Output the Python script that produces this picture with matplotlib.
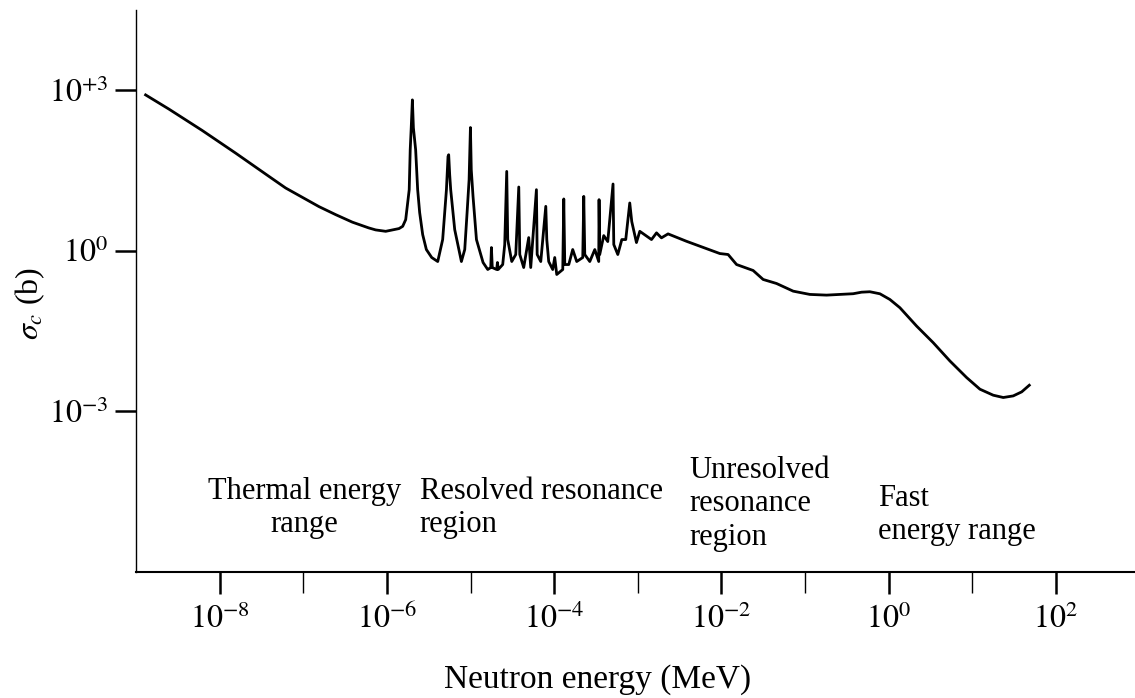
import numpy as np
import matplotlib
matplotlib.use('Agg')
import matplotlib.pyplot as plt
from matplotlib.ticker import FixedLocator, NullFormatter

plt.rcParams['font.family'] = 'Liberation Serif'
plt.rcParams['mathtext.fontset'] = 'stix'

# log10(E / MeV) and log10(sigma / b)
thermal_logE = [-8.885, -8.606, -8.207, -7.809, -7.410, -7.211, -6.812, -6.612, -6.413,
                -6.218, -6.134, -6.014, -5.855, -5.811, -5.775]
thermal_logS = [2.905, 2.640, 2.240, 1.819, 1.384, 1.168, 0.820, 0.670, 0.530,
                0.423, 0.385, 0.359, 0.410, 0.452, 0.577]

resolved_logE = [-5.733, -5.721, -5.709, -5.695, -5.683, -5.656, -5.632, -5.608, -5.572, -5.528,
                 -5.464, -5.392,
                 -5.333, -5.288, -5.269, -5.261, -5.249, -5.237, -5.189, -5.109,
                 -5.069, -5.041, -5.017, -5.001, -4.991, -4.970, -4.929, -4.850, -4.794,
                 -4.758, -4.750, -4.740, -4.687, -4.678, -4.669, -4.615,
                 -4.591, -4.567, -4.555, -4.507, -4.459, -4.423, -4.411, -4.364, -4.304, -4.280,
                 -4.212, -4.203, -4.160, -4.100, -4.088, -4.065, -4.017, -3.993, -3.969,
                 -3.897, -3.885, -3.873, -3.825, -3.778, -3.730,
                 -3.658, -3.646, -3.634, -3.574, -3.514,
                 -3.467, -3.463, -3.455, -3.407, -3.359, -3.296, -3.287, -3.239, -3.191, -3.144,
                 -3.096, -3.072, -3.016, -2.976]
resolved_logS = [1.136, 1.881, 2.291, 2.812, 2.291, 1.881, 1.136, 0.708, 0.298, 0.019,
                 -0.130, -0.205,
                 0.205, 1.136, 1.756, 1.788, 1.415, 1.136, 0.391, -0.205,
                 0.019, 0.708, 1.322, 2.296, 1.508, 1.011, 0.205, -0.223, -0.354,
                 -0.317, 0.056, -0.317, -0.354, -0.223, -0.354, -0.261,
                 0.112, 1.477, 0.205, -0.205, -0.074, 1.186, -0.074, -0.317, 0.242, -0.317,
                 1.136, -0.074, -0.205, 0.825, 0.205, -0.205, -0.354, -0.130, -0.447,
                 -0.354, 0.963, -0.261, -0.261, 0.019, -0.205,
                 -0.130, 1.011, -0.074, -0.205, 0.019,
                 -0.205, 0.950, -0.074, 0.279, 0.168, 1.242, 0.112, -0.074, 0.205, 0.205,
                 0.888, 0.540, 0.149, 0.359]

unresolved_logE = [-2.836, -2.776, -2.717, -2.638, -2.418, -2.019, -1.920, -1.819, -1.621,
                   -1.501, -1.341, -1.142, -0.943]
unresolved_logS = [0.205, 0.330, 0.237, 0.311, 0.173, -0.056, -0.074, -0.261, -0.372,
                   -0.540, -0.615, -0.758, -0.819]

fast_logE = [-0.743, -0.425, -0.324, -0.225, -0.105, 0.014, 0.134, 0.334, 0.532, 0.732,
             0.932, 1.091, 1.250, 1.370, 1.489, 1.590, 1.681]
fast_logS = [-0.832, -0.806, -0.777, -0.769, -0.807, -0.913, -1.067, -1.410, -1.719, -2.061,
             -2.371, -2.588, -2.700, -2.743, -2.713, -2.638, -2.514]

major_x = [-8, -6, -4, -2, 0, 2]
minor_x = [-7, -5, -3, -1, 1]
y_ticks = [3, 0, -3]
y_labels = ['$10^{+3}$', '$10^{0}$', '$10^{-3}$']

logE = np.concatenate([thermal_logE, resolved_logE, unresolved_logE, fast_logE])
logS = np.concatenate([thermal_logS, resolved_logS, unresolved_logS, fast_logS])

fig = plt.figure(figsize=(11.35, 6.98), dpi=100)
ax = fig.add_axes([0.1198, 0.1805, 0.8802, 0.8052])

ax.loglog(10.0 ** logE, 10.0 ** logS, color='black', lw=2.0, solid_joinstyle='round')

ax.set_xlim(1e-9, 10 ** 2.945)
ax.set_ylim(1e-6, 10 ** 4.49)

ax.spines['top'].set_visible(False)
ax.spines['right'].set_visible(False)
ax.spines['left'].set_linewidth(1.0)
ax.spines['bottom'].set_linewidth(1.5)

ax.xaxis.set_major_locator(FixedLocator([10.0 ** k for k in major_x]))
ax.xaxis.set_minor_locator(FixedLocator([10.0 ** k for k in minor_x]))
ax.set_xticklabels(['$10^{%d}$' % k for k in major_x])
ax.xaxis.set_minor_formatter(NullFormatter())
ax.tick_params(axis='x', which='major', direction='out', length=16, width=1.8,
               labelsize=23, pad=7)
ax.tick_params(axis='x', which='minor', direction='out', length=15, width=1.0)

ax.yaxis.set_major_locator(FixedLocator([10.0 ** k for k in y_ticks]))
ax.yaxis.set_minor_locator(FixedLocator([]))
ax.set_yticklabels(y_labels)
ax.tick_params(axis='y', which='major', direction='out', length=15, width=1.8,
               labelsize=23, pad=5)

fig.text(598 / 1135, 1 - 680 / 698, 'Neutron energy (MeV)', ha='center', va='center', fontsize=24)
fig.text(30 / 1135, 1 - 303 / 698, r'$\sigma_c$ (b)', ha='center', va='center',
         rotation=90, fontsize=23)

# region names
ax.text(10 ** -6.983, 10 ** -4.80, 'Thermal energy\nrange', ha='center', va='center',
        fontsize=22, linespacing=1.2)
ax.text(10 ** -5.608, 10 ** -4.80, 'Resolved resonance\nregion', ha='left', va='center',
        fontsize=22, linespacing=1.2)
ax.text(10 ** -2.378, 10 ** -4.73, 'Unresolved\nresonance\nregion', ha='left', va='center',
        fontsize=22, linespacing=1.2)
ax.text(10 ** -0.129, 10 ** -4.94, 'Fast\nenergy range', ha='left', va='center',
        fontsize=22, linespacing=1.2)

fig.savefig('out.png', dpi=100, facecolor='white')
